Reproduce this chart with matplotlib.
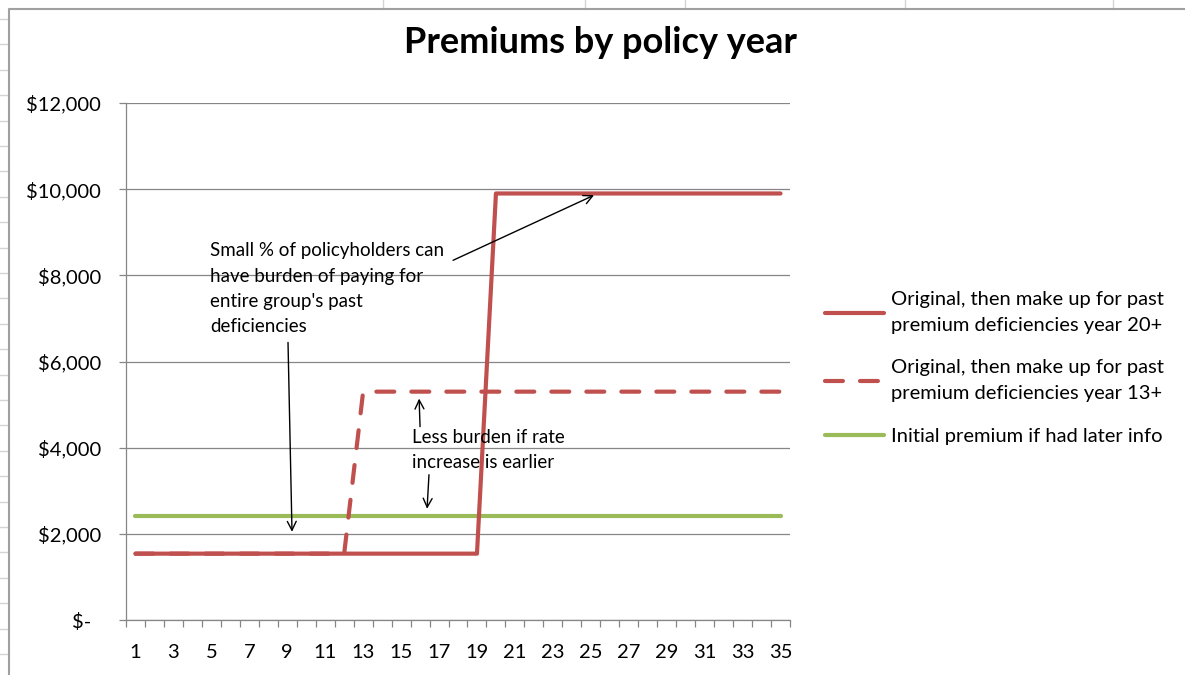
import numpy as np
import matplotlib
matplotlib.use("Agg")
import matplotlib.pyplot as plt
from matplotlib.lines import Line2D

plt.rcParams['font.family'] = ['Lato', 'DejaVu Sans']

# data
years = list(range(1, 36))
prem_year20 = [1540] * 19 + [9900] * 16
prem_year13 = [1540] * 12 + [5300] * 23
prem_initial = [2420] * 35

yticks = [0, 2000, 4000, 6000, 8000, 10000, 12000]
ytick_labels = ['$-  ', '$2,000', '$4,000', '$6,000', '$8,000', '$10,000', '$12,000']
xtick_labels = [str(y) for y in years[::2]]

labels = ['Original, then make up for past\npremium deficiencies year 20+',
          'Original, then make up for past\npremium deficiencies year 13+',
          'Initial premium if had later info']

red = '#C0504D'
green = '#9BBB59'
grid = '#868686'

W, H = 1185, 675
fig = plt.figure(figsize=(W / 100, H / 100), dpi=100)

# spreadsheet background behind the chart
for yy in np.arange(19, H, 25.4):
    fig.add_artist(Line2D([0, 9 / W], [1 - yy / H] * 2, color='#D4D4D4', lw=1))
for xx in [383, 585, 685, 905, 1113]:
    fig.add_artist(Line2D([xx / W] * 2, [1, 1 - 9 / H], color='#D4D4D4', lw=1))
fig.add_artist(Line2D([9 / W, 9 / W, 1], [0, 1 - 9 / H, 1 - 9 / H], color='#A0A0A0', lw=1.5))

ax = fig.add_axes([126 / W, 55 / H, 664 / W, 517 / H])

ax.plot(years, prem_year20, color=red, lw=3, solid_capstyle='round', solid_joinstyle='round',
        label=labels[0], zorder=3)
ax.plot(years, prem_year13, color=red, lw=3, ls=(0, (4.3, 4.1)), dash_capstyle='round',
        label=labels[1], zorder=3)
ax.plot(years, prem_initial, color=green, lw=3, solid_capstyle='round',
        label=labels[2], zorder=2)

ax.set_xlim(0.5, 35.5)
ax.set_ylim(0, 12000)

ax.set_yticks(yticks)
ax.set_yticklabels(ytick_labels, fontsize=14.5)
ax.tick_params(axis='y', length=5, width=0.9, color=grid, pad=13)
ax.yaxis.grid(True, color=grid, lw=0.9)
ax.set_axisbelow(True)

ax.set_xticks(years[::2])
ax.set_xticklabels(xtick_labels, fontsize=14.5)
ax.set_xticks(np.arange(0.5, 36, 1), minor=True)
ax.tick_params(axis='x', which='major', length=0, pad=17)
ax.tick_params(axis='x', which='minor', length=5, width=0.9, color=grid)

for s in ['top', 'right']:
    ax.spines[s].set_visible(False)
for s in ['left', 'bottom']:
    ax.spines[s].set_color(grid)
    ax.spines[s].set_linewidth(0.9)

fig.text(600 / W, 1 - 53 / H, 'Premiums by policy year', ha='center', va='baseline',
         fontsize=26, fontweight='bold')

# annotations
arrow = dict(arrowstyle='->', color='black', lw=1, mutation_scale=16, shrinkA=0, shrinkB=0)
ax.text(4.93, 8770, "Small % of policyholders can\nhave burden of paying for\nentire group's past\ndeficiencies",
        fontsize=13.5, va='top', ha='left', linespacing=1.6)
ax.annotate('', xy=(9.25, 2047), xytext=(9.04, 6442), arrowprops=arrow)
ax.annotate('', xy=(25.17, 9860), xytext=(17.74, 8349), arrowprops=arrow)
ax.text(15.58, 4442, 'Less burden if rate\nincrease is earlier',
        fontsize=13.5, va='top', ha='left', linespacing=1.6)
ax.annotate('', xy=(15.95, 5140), xytext=(16.0, 4488), arrowprops=arrow)
ax.annotate('', xy=(16.37, 2581), xytext=(16.47, 3372), arrowprops=arrow)

leg = fig.legend(loc='upper left', bbox_to_anchor=(807 / W, 1 - 273 / H), frameon=False,
                 fontsize=14.5, handlelength=2.9, handletextpad=0.35, labelspacing=1.25)
for t in leg.get_texts():
    t.set_linespacing(1.65)

fig.savefig('out.png', dpi=100)
